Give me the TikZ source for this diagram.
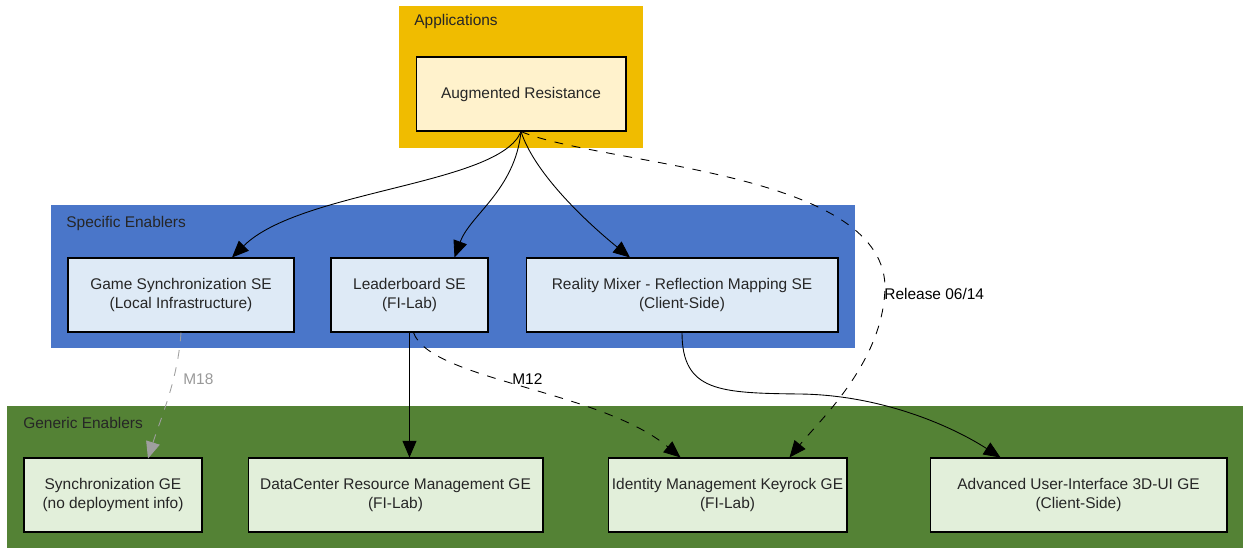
\documentclass[tikz,border=0pt]{standalone}
\usepackage{fontspec}
\setmainfont{Liberation Sans}
\usetikzlibrary{arrows.meta}
\usetikzlibrary{calc}

\definecolor{appgold}{HTML}{F0BC00}
\definecolor{appfill}{HTML}{FFF2CC}
\definecolor{seblue}{HTML}{4A76C9}
\definecolor{sefill}{HTML}{DEEAF6}
\definecolor{gegreen}{HTML}{548235}
\definecolor{gefill}{HTML}{E2EFDA}

\tikzset{
	enabler/.style={draw=black, line width=0.6pt, align=center, minimum height=1.48cm, inner sep=0pt, text=black!85},
	appbox/.style={enabler, fill=appfill},
	sebox/.style={enabler, fill=sefill},
	gebox/.style={enabler, fill=gefill},
	clusterlabel/.style={anchor=west, inner sep=0pt, text=black!85},
	dep/.style={-{Triangle[length=9.5pt,width=8pt]}, line width=0.5pt},
	plan/.style={dep, dash pattern=on 5pt off 5pt},
	deplabel/.style={anchor=west, inner sep=0pt}
}

\begin{document}
\begin{tikzpicture}[x=0.02cm, y=-0.02cm, font=\fontsize{8.8}{10.8}\selectfont]
	\useasboundingbox (0,0) rectangle (1243,548);
	% clusters
	\fill[appgold] (399,6) rectangle (643,148);
	\fill[seblue] (51,205) rectangle (855,348);
	\fill[gegreen] (7,406) rectangle (1243,548);
	\node[clusterlabel] (applbl) at (414,22) {Applications};
	\node[clusterlabel] (selbl) at (66,223) {Specific Enablers};
	\node[clusterlabel] (gelbl) at (23,423) {Generic Enablers};
	% application
	\node[appbox, minimum width=4.2cm] (ar) at (521,94) {Augmented Resistance};
	% specific enablers
	\node[sebox, minimum width=4.52cm] (gs) at (181,295) {Game Synchronization SE\\(Local Infrastructure)};
	\node[sebox, minimum width=3.14cm] (lb) at (409.5,295) {Leaderboard SE\\(FI-Lab)};
	\node[sebox, minimum width=6.24cm] (rm) at (682,295) {Reality Mixer - Reflection Mapping SE\\(Client-Side)};
	% generic enablers
	\node[gebox, minimum width=3.56cm] (sg) at (113,495) {Synchronization GE\\(no deployment info)};
	\node[gebox, minimum width=5.9cm] (dc) at (395.5,495) {DataCenter Resource Management GE\\(FI-Lab)};
	\node[gebox, minimum width=4.78cm] (im) at (727.5,495) {Identity Management Keyrock GE\\(FI-Lab)};
	\node[gebox, minimum width=5.94cm] (ui) at (1078.5,495) {Advanced User-Interface 3D-UI GE\\(Client-Side)};
	% dependencies
	\draw[dep] (ar.south) .. controls (500,185) and (300,190) .. ($(gs.north)+(51,0)$);
	\draw[dep] (ar.south) .. controls (515,190) and (470,215) .. ($(lb.north)+(45,0)$);
	\draw[dep] (ar.south) .. controls (535,175) and (590,225) .. ($(rm.north)+(-52,0)$);
	\draw[plan] (ar.south) .. controls (600,165) and (880,170) .. (885,285)
		.. controls (885,360) and (820,420) .. ($(im.north)+(62,0)$);
	\node[deplabel] (rel) at (884,294) {Release 06/14};
	\draw[plan, gray!75] (gs.south) .. controls (178,380) and (160,420) .. ($(gs.south)+(-33,126)$);
	\node[deplabel, gray!80] (m18) at (183,379) {M18};
	\draw[dep] (lb.south) -- (lb.south |- dc.north);
	\draw[plan] ($(lb.south)+(4,0)$) .. controls (430,380) and (600,390) .. ($(im.north)+(-47,0)$);
	\node[deplabel] (m12) at (512,379) {M12};
	\draw[dep] (rm.south) .. controls (682,392) and (720,393) .. (800,394)
		.. controls (880,395) and (950,425) .. ($(ui.north)+(-78,0)$);
\end{tikzpicture}
\end{document}
